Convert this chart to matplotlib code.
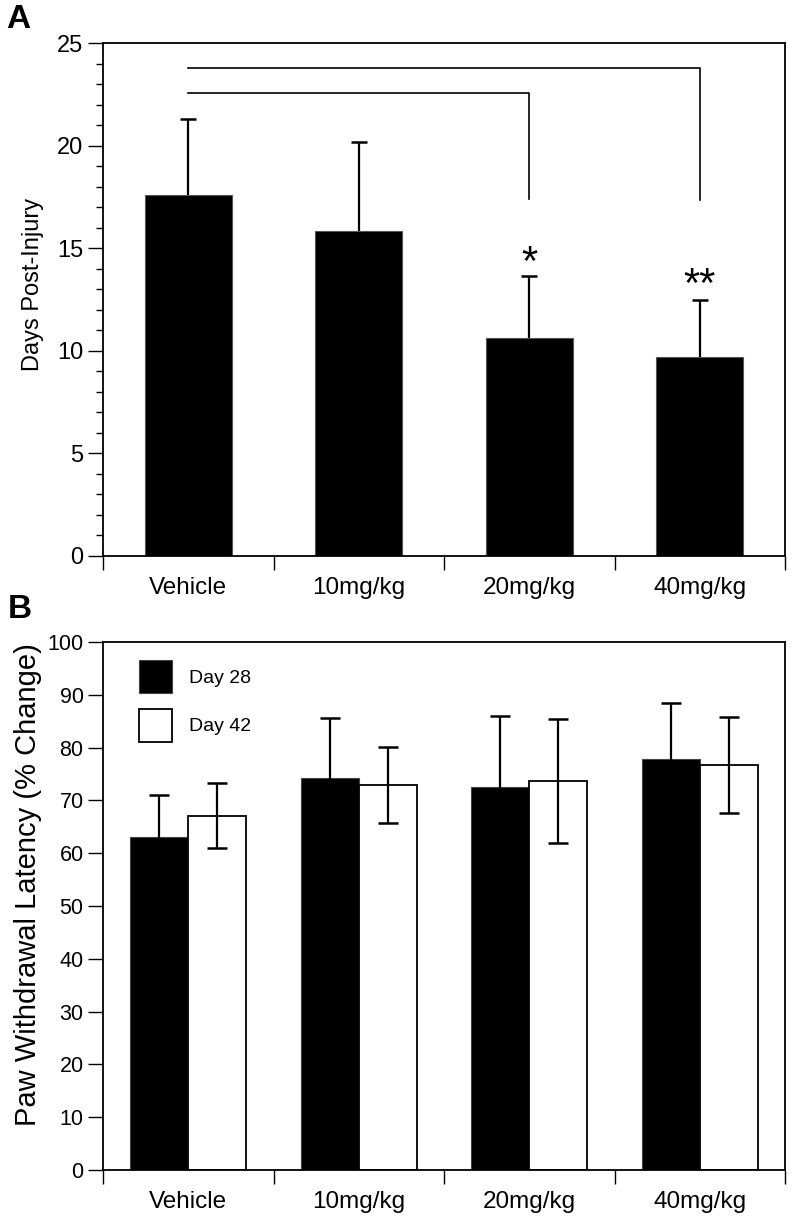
import matplotlib
matplotlib.use("Agg")
import matplotlib.pyplot as plt
from matplotlib.patches import Patch
import numpy as np

plt.rcParams['font.family'] = ['Liberation Sans', 'DejaVu Sans']

# ---- data ----
categories = ["Vehicle", "10mg/kg", "20mg/kg", "40mg/kg"]

days_mean = [17.62, 15.87, 10.62, 9.72]
days_err = [3.68, 4.31, 3.04, 2.78]

sig_pairs = [(0, 2), (0, 3)]
sig_bracket_y = [22.6, 23.82]
sig_drop_y = [17.4, 17.37]
sig_labels = ["*", "**"]
sig_label_y = [14.25, 13.15]

day28_mean = [63.1, 74.2, 72.5, 77.8]
day28_err = [7.9, 11.4, 13.5, 10.7]
day42_mean = [67.1, 72.9, 73.7, 76.7]
day42_err = [6.2, 7.2, 11.8, 9.1]
legend_labels = ["Day 28", "Day 42"]

W, H = 792, 1224
fig = plt.figure(figsize=(W / 100, H / 100), dpi=100)

def ax_rect(x0, y0, x1, y1):
    return [x0 / W, 1 - y1 / H, (x1 - x0) / W, (y1 - y0) / H]

x = np.arange(len(categories))

def style_axes(ax, ylim, ymajor, yminor, ytick_fs):
    ax.set_xlim(-0.5, len(categories) - 0.5)
    ax.set_ylim(*ylim)
    for s in ax.spines.values():
        s.set_linewidth(1.3)
    ax.set_yticks(ymajor)
    ax.set_yticks(yminor, minor=True)
    ax.tick_params(axis='y', which='major', direction='out', length=11, width=1.0,
                   labelsize=ytick_fs, pad=3)
    ax.tick_params(axis='y', which='minor', direction='out', length=5, width=1.0)
    # x: ticks at category boundaries, labels at centers
    ax.set_xticks(np.arange(len(categories) + 1) - 0.5)
    ax.set_xticklabels([])
    ax.set_xticks(x, minor=True)
    ax.set_xticklabels(categories, minor=True)
    ax.tick_params(axis='x', which='major', direction='out', length=10, width=1.0)
    ax.tick_params(axis='x', which='minor', length=0, labelsize=17.5, pad=15)

# ---- Panel A ----
axA = fig.add_axes(ax_rect(103, 43.5, 785, 556))
axA.bar(x, days_mean, width=0.513, color='black', edgecolor='#555555', linewidth=0.8, zorder=2)
days_top = np.array(days_mean) + np.array(days_err)
axA.vlines(x, days_mean, days_top, color='black', lw=1.6, zorder=1)
axA.plot(x, days_top, ls='none', marker='_', ms=12, mew=1.8, color='black', zorder=1)
style_axes(axA, (0, 25), np.arange(0, 26, 5), np.arange(0, 26, 1), 17)
axA.set_ylabel("Days Post-Injury", fontsize=17)
axA.yaxis.set_label_coords((44 - 103) / 682, 0.529)
for (a, b), yb, yd in zip(sig_pairs, sig_bracket_y, sig_drop_y):
    axA.plot([x[a], x[b], x[b]], [yb, yb, yd], color='black', lw=1.2, zorder=3)
for (a, b), lab, yl in zip(sig_pairs, sig_labels, sig_label_y):
    axA.text(x[b], yl, lab, ha='center', va='center', fontsize=30)
fig.text(6 / W, 1 - 20 / H, "A", fontsize=24, fontweight='bold', ha='left', va='center')

# ---- Panel B ----
axB = fig.add_axes(ax_rect(103, 642, 785, 1170))
bw = 0.34
axB.bar(x - bw / 2, day28_mean, width=bw, color='black', edgecolor='#444444', linewidth=0.8,
        zorder=2, label=legend_labels[0])
axB.bar(x + bw / 2, day42_mean, width=bw, color='white', edgecolor='black', linewidth=1.3,
        zorder=2, label=legend_labels[1])
axB.errorbar(x - bw / 2, day28_mean, yerr=day28_err, fmt='none', ecolor='black',
             elinewidth=1.6, capsize=7, capthick=1.8, zorder=3)
axB.errorbar(x + bw / 2, day42_mean, yerr=day42_err, fmt='none', ecolor='black',
             elinewidth=1.6, capsize=7, capthick=1.8, zorder=3)
style_axes(axB, (0, 100), np.arange(0, 101, 10), [], 15.5)
axB.set_ylabel("Paw Withdrawal Latency (% Change)", fontsize=21)
axB.yaxis.set_label_coords((42 - 103) / 682, 0.54)
handles = [Patch(facecolor='black', edgecolor='#444444', linewidth=0.8),
           Patch(facecolor='white', edgecolor='black', linewidth=1.3)]
axB.legend(handles, legend_labels, loc='upper left', bbox_to_anchor=(0.053, 0.966),
           frameon=False, fontsize=14, handlelength=1.7, handleheight=2.24,
           labelspacing=0.8, handletextpad=0.85, borderaxespad=0.0, borderpad=0.0)
fig.text(8 / W, 1 - 610 / H, "B", fontsize=24, fontweight='bold', ha='left', va='center')

fig.savefig("out.png", dpi=100)
